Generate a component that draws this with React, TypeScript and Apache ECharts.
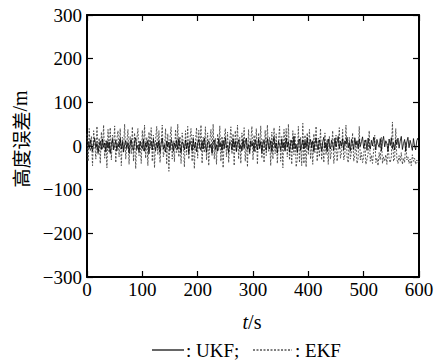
import React, { useEffect, useRef } from "react";
import * as echarts from "echarts";

const timeStep = 2;
const xTicks = [0, 100, 200, 300, 400, 500, 600];
const yTicks = [-300, -200, -100, 0, 100, 200, 300];

const ukfValues = [
  3, 10, -6, 14, -2, -12, 8, 18, -4, 6,
  -15, 2, 11, -8, 16, -3, 7, -13, 12, -5,
  9, -17, 4, 15, -9, 1, 13, -11, 6, -2,
  17, -7, 10, -14, 3, 12, -6, 8, -16, 5,
  14, -4, -10, 9, 19, -8, 2, -13, 11, 0,
  -6, 15, -12, 7, -3, 13, -18, 4, 10, -9,
  16, 1, -11, 8, -5, 12, -15, 6, 18, -7,
  3, -14, 11, -2, 9, -10, 15, 5, -12, 7,
  -4, 13, -8, 17, -1, -15, 10, 4, -9, 14,
  -6, 8, -17, 12, 2, -11, 16, -5, 9, -13,
  6, 15, -3, -10, 11, -7, 18, 0, -14, 8,
  12, -5, 4, -16, 9, 14, -8, 3, -12, 17,
  -2, 7, -10, 13, -6, 19, -4, 1, -15, 10,
  5, -9, 16, -3, 11, -13, 7, 14, -7, 2,
  -11, 15, -5, 9, 18, -8, 3, -14, 12, -1,
  8, -12, 14, 4, -9, 16, -6, 10, -15, 6,
  13, -3, -10, 17, 1, -7, 12, -13, 9, 20,
  -5, 7, -16, 11, 3, -9, 15, -4, 8, -12,
  18, -2, 10, -14, 6, 13, -8, 22, -6, 4,
  -15, 9, 16, -10, 2, 14, -7, 11, -3, 19,
  -9, 6, 15, -4, 12, -13, 8, 18, 0, -8,
  14, 3, -11, 10, 20, -5, 7, -12, 16, 2,
  -7, 13, 5, -10, 18, -2, 9, 22, -6, 11,
  0, 17, -9, 12, 4, 20, -4, 8, -11, 15,
  6, -8, 19, 2, 12, -6, 16, -1, 10, 21,
  -5, 7, 14, -10, 18, 3, -7, 13, 0, 20,
  8, -9, 15, 4, -3, 17, -11, 10, 22, -2,
  12, 5, -12, 16, 1, 19, -6, 8, -9, 14,
  3, 18, -5, 11, 22, -8, 6, 15, -12, 9,
  20, -4, 13, 2, -10, 17, 0, -9, 12, 18,
  8,
];

const ekfValues = [
  28, -35, 40, -12, 22, -45, 35, 5, -30, 45,
  -20, 18, -40, 32, -8, 48, -28, 12, -50, 38,
  -15, 42, -32, 25, -5, 46, -38, 15, 35, -25,
  40, -45, 20, -10, 50, -30, 8, 38, -42, 22,
  -18, 44, -35, 30, -52, 15, 40, -22, 10, -40,
  36, -12, 48, -28, 20, -45, 32, -5, 42, -35,
  25, -50, 15, 45, -20, 35, -38, 8, 48, -25,
  -10, 40, -42, 28, -58, 18, 44, -30, 12, -36,
  38, -15, 50, -25, 22, -40, 30, 6, -48, 35,
  -20, 45, -30, 15, 40, -35, 25, -52, 10, 42,
  -28, 36, -8, 48, -40, 20, -15, 44, -32, 30,
  -45, 12, 38, -22, 50, -30, 18, -42, 28, -10,
  46, -35, 22, -50, 15, 40, -25, 32, -38, 8,
  44, -18, 28, -45, 35, -12, 48, -30, 20, -40,
  30, -8, 42, -35, 18, -48, 38, -20, 10, 45,
  -32, 25, -15, 40, -42, 30, -5, 46, -28, 15,
  -38, 36, -22, 48, -12, 20, -45, 32, -30, 42,
  -18, 28, -40, 10, 45, -35, 22, -50, 38, -8,
  40, -25, 50, -32, 15, -42, 35, -20, 28, -48,
  -30, 45, -38, 20, -45, 52, -40, 25, -48, 30,
  -20, 38, -30, 10, -42, 28, -15, 45, -35, 18,
  -25, 40, -32, 5, -38, 30, -20, 15, -42, 22,
  -30, -10, 35, -40, -18, 25, -35, -5, 42, -28,
  -15, 38, -32, -20, 48, -25, -38, 20, -30, -12,
  30, -35, -22, 10, -40, -28, 45, -32, -15, -38,
  -25, 15, -42, -30, -18, 35, -35, -22, -40, -10,
  25, -38, -28, -45, -15, -32, 20, -40, -25, -35,
  -20, -42, 5, -30, -38, -25, 55, -35, -28, 40,
  -30, -40, -22, -35, -15, -42, -28, -38, 10, -32,
  -25, -40, -30, -45, -20, -35, -28, -42, -32, -38,
  -35,
];

const SERIF = "'Liberation Serif', 'DejaVu Serif', serif";
const CJK = "'Noto Sans CJK SC', sans-serif";

function toPairs(vals: number[]) {
  return vals.map((v, i) => [i * timeStep, v]);
}

const fmt = (v: number) => String(v).replace("-", "\u2212");

export default function App() {
  const ref = useRef<HTMLDivElement>(null);
  useEffect(() => {
    if (!ref.current) return;
    const chart = echarts.init(ref.current, undefined, { renderer: "svg" });
    const axisCommon = {
      type: "value" as const,
      axisLine: { show: true, onZero: false, lineStyle: { color: "#000", width: 2 } },
      axisTick: { show: true, inside: true, length: 6, lineStyle: { color: "#000", width: 1.2 } },
      splitLine: { show: false },
    };
    chart.setOption({
      animation: false,
      backgroundColor: "#fff",
      textStyle: { fontFamily: SERIF },
      grid: { left: 87, right: 19, top: 15, bottom: 84 },
      xAxis: [
        {
          ...axisCommon,
          min: xTicks[0],
          max: xTicks[xTicks.length - 1],
          interval: 100,
          position: "bottom",
          axisLabel: { color: "#000", fontFamily: "serif", fontSize: 19, margin: 3, formatter: fmt },
        },
        {
          ...axisCommon,
          min: xTicks[0],
          max: xTicks[xTicks.length - 1],
          interval: 100,
          position: "top",
          axisLabel: { show: false },
        },
      ],
      yAxis: [
        {
          ...axisCommon,
          min: yTicks[0],
          max: yTicks[yTicks.length - 1],
          interval: 100,
          position: "left",
          axisLabel: { color: "#000", fontFamily: "Liberation Serif", fontSize: 19, margin: 5, formatter: fmt },
        },
        {
          ...axisCommon,
          min: yTicks[0],
          max: yTicks[yTicks.length - 1],
          interval: 100,
          position: "right",
          axisLabel: { show: false },
        },
      ],
      series: [
        {
          name: "EKF",
          type: "line",
          data: toPairs(ekfValues),
          showSymbol: false,
          lineStyle: { color: "#444", width: 0.9, type: [2, 1.5] },
        },
        {
          name: "UKF",
          type: "line",
          data: toPairs(ukfValues),
          showSymbol: false,
          lineStyle: { color: "#000", width: 0.8 },
        },
      ],
      graphic: [
        {
          type: "text",
          x: 20,
          y: 139,
          rotation: Math.PI / 2,
          style: {
            text: "{c|高度误差}{s|/m}",
            align: "center",
            verticalAlign: "middle",
            rich: {
              c: { fontFamily: CJK, fontSize: 19, fill: "#000" },
              s: { fontFamily: SERIF, fontSize: 20, fill: "#000" },
            },
          },
        },
        {
          type: "text",
          x: 252,
          y: 322,
          style: {
            text: "{i|t}{s|/s}",
            align: "center",
            verticalAlign: "middle",
            rich: {
              i: { fontFamily: SERIF, fontStyle: "italic", fontSize: 20, fill: "#000" },
              s: { fontFamily: SERIF, fontSize: 20, fill: "#000" },
            },
          },
        },
        {
          type: "line",
          shape: { x1: 152, y1: 350, x2: 184, y2: 350 },
          style: { stroke: "#000", lineWidth: 1.2 },
        },
        {
          type: "text",
          x: 186,
          y: 350,
          style: { text: ": UKF;", font: "19px 'Liberation Serif'", fill: "#000", verticalAlign: "middle" },
        },
        {
          type: "line",
          shape: { x1: 253, y1: 350, x2: 292, y2: 350 },
          style: { stroke: "#000", lineWidth: 1, lineDash: [2, 1.5] },
        },
        {
          type: "text",
          x: 295,
          y: 350,
          style: { text: ": EKF", fontFamily: "Liberation Serif", fontSize: 19, fill: "#000", verticalAlign: "middle" },
        },
      ],
    });
    return () => chart.dispose();
  }, []);
  return (
    <div
      ref={ref}
      style={{ position: "absolute", left: 0, top: 0, width: 438, height: 361 }}
    />
  );
}
